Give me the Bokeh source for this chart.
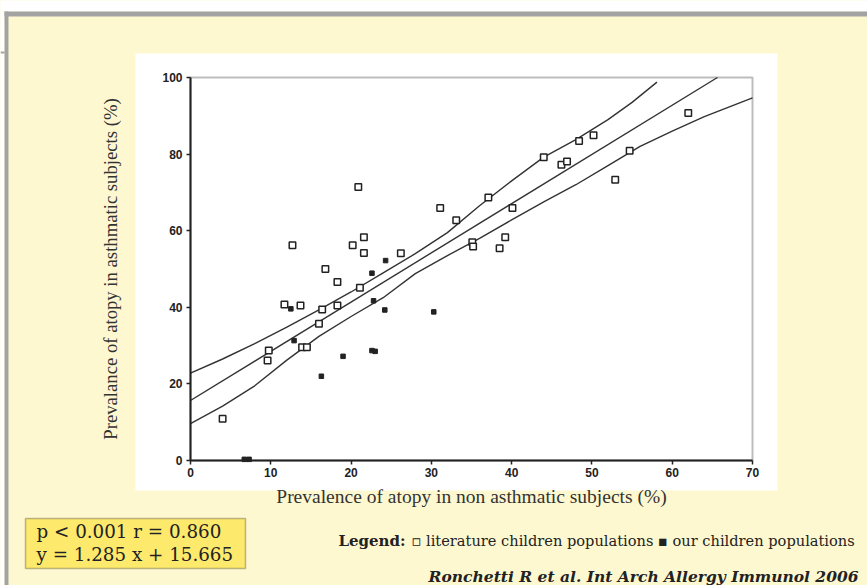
from bokeh.plotting import figure
from bokeh.models import Range1d, BoxAnnotation, Label
from bokeh.embed import file_html
from bokeh.resources import INLINE

# ---------------- data ----------------
lit_x = [4.0, 9.6, 9.75, 11.7, 12.7, 13.7, 13.9, 14.5, 16.0, 16.4, 16.8, 18.3, 18.3,
         20.2, 20.9, 21.1, 21.6, 21.6, 26.2, 31.1, 33.1, 35.1, 35.2, 37.1, 38.5,
         39.2, 40.1, 44.0, 46.2, 46.9, 48.4, 50.2, 52.9, 54.7, 62.0]
lit_y = [10.9, 26.1, 28.7, 40.7, 56.2, 40.5, 29.6, 29.6, 35.7, 39.4, 50.0, 46.6, 40.5,
         56.2, 71.4, 45.1, 54.2, 58.3, 54.1, 65.9, 62.7, 57.0, 55.9, 68.7, 55.4,
         58.3, 65.9, 79.2, 77.2, 78.1, 83.4, 84.9, 73.3, 80.9, 90.7]

our_x = [6.7, 7.3, 12.5, 12.9, 16.3, 19.0, 22.6, 23.0, 22.6, 22.8, 24.3, 24.2, 30.3]
our_y = [0.3, 0.3, 39.6, 31.3, 22.0, 27.2, 28.7, 28.5, 48.9, 41.7, 52.2, 39.3, 38.8]

slope = 1.285
intercept = 15.665

upper_x = [0, 4, 8, 12, 16, 20, 24, 28, 32, 36, 40, 44, 48, 52, 55, 58.1]
upper_y = [22.8, 26.5, 30.5, 34.8, 39.3, 44.0, 49.0, 54.0, 59.5, 66.5, 73.0, 79.2,
           83.8, 89.0, 93.5, 98.8]

lower_x = [0, 4, 8, 12, 16, 20, 24, 28, 32, 36, 40, 44, 48, 52, 56, 60, 64, 70]
lower_y = [9.6, 14.2, 19.5, 26.2, 32.4, 37.6, 42.5, 48.8, 53.5, 58.0, 62.8, 67.5,
           72.0, 77.0, 82.0, 86.0, 89.8, 94.7]

x_min, x_max = 0, 70
y_min, y_max = 0, 100
x_ticks = [0, 10, 20, 30, 40, 50, 60, 70]
y_ticks = [0, 20, 40, 60, 80, 100]

x_title = "Prevalence of atopy in non asthmatic subjects (%)"
y_title = "Prevalance of atopy in asthmatic subjects (%)"
stats_lines = ["p < 0.001 r = 0.860", "y = 1.285 x + 15.665"]
legend_head = "Legend:"
legend_rest = "\u25ab literature children populations \u25aa our children populations"
citation = "Ronchetti R et al. Int Arch Allergy Immunol 2006"

# ---------------- page geometry (pixels) ----------------
W, H = 867, 585
AX_L, AX_R, AX_T, AX_B = 190, 752, 77, 460      # where the axis box sits on the page
YELLOW = "#fef8d1"
BOXYEL = "#fde96c"
GRAY = "#a3a3a3"
INK = "#222222"
SERIF = "Liberation Serif"
WIDE_SERIF = "DejaVu Serif"

# the frame fills the whole page; ranges are set so that the axis box lands
# at AX_* on the page
kx = (AX_R - AX_L) / (x_max - x_min)
ky = (AX_B - AX_T) / (y_max - y_min)
xr = Range1d(x_min - AX_L / kx, x_max + (W - AX_R) / kx)
yr = Range1d(y_min - (H - AX_B) / ky, y_max + AX_T / ky)

p = figure(width=W, height=H, x_range=xr, y_range=yr,
           output_backend="svg", toolbar_location=None,
           min_border=0, min_border_left=0, min_border_right=0,
           min_border_top=0, min_border_bottom=0,
           border_fill_color=YELLOW, background_fill_color=YELLOW)
p.outline_line_color = None
p.grid.visible = False


def sx(cx):
    return cx


def sy(cy):
    return H - cy


def box(l, t, r, b, color, level="underlay", line_color=None, line_width=1):
    return BoxAnnotation(left=sx(l), right=sx(r), top=sy(t), bottom=sy(b),
                         left_units="screen", right_units="screen",
                         top_units="screen", bottom_units="screen",
                         fill_color=color, fill_alpha=1.0,
                         line_color=line_color, line_width=line_width,
                         level=level)


# page decoration
p.add_layout(box(0, 0, W, 11, "white"))
p.add_layout(box(0, 0, 4, H, "white"))
p.add_layout(box(4, 11, W, 16, GRAY))
p.add_layout(box(4, 11, 8, H, GRAY))
p.add_layout(box(0, 51, 4, 53, GRAY))
p.add_layout(box(135, 53, 777, 490, "white"))

# axis box (top and right sides)
p.add_layout(BoxAnnotation(left=x_min, right=x_max, bottom=y_min, top=y_max,
                           fill_alpha=0, line_color=INK, line_width=2,
                           level="guide"))

# axes, fixed at the data origin and bounded to the data box
p.xaxis.fixed_location = y_min
p.yaxis.fixed_location = x_min
p.xaxis.bounds = (x_min, x_max)
p.yaxis.bounds = (y_min, y_max)
for ax in (p.xaxis[0], p.yaxis[0]):
    ax.axis_line_color = INK
    ax.axis_line_width = 2
    ax.major_tick_line_color = INK
    ax.major_tick_line_width = 1.5
    ax.major_tick_out = 4
    ax.major_tick_in = 0
    ax.minor_tick_line_color = None
    ax.major_label_text_font = "Liberation Sans"
    ax.major_label_text_font_style = "bold"
    ax.major_label_text_font_size = "12px"
    ax.major_label_text_color = INK
    ax.axis_label_text_font = SERIF
    ax.axis_label_text_font_style = "normal"
    ax.axis_label_text_color = "#333333"

p.xaxis.ticker = x_ticks
p.yaxis.ticker = y_ticks
p.xaxis.major_label_standoff = 3
p.yaxis.major_label_standoff = 4
p.xaxis.axis_label = x_title
p.yaxis.axis_label = y_title
p.xaxis.axis_label_text_font_size = "19.5px"
p.yaxis.axis_label_text_font_size = "18.7px"
p.xaxis.axis_label_standoff = 6
p.yaxis.axis_label_standoff = 38

# regression line (stops at the top of the axis box) and confidence bands
reg_x = [x_min, (y_max - intercept) / slope]
reg_y = [slope * v + intercept for v in reg_x]
p.line(reg_x, reg_y, line_color="#333333", line_width=1.4)
p.line(upper_x, upper_y, line_color="#333333", line_width=1.4)
p.line(lower_x, lower_y, line_color="#333333", line_width=1.4)

# points
p.scatter(lit_x, lit_y, marker="square", size=6.5, fill_color="white",
          line_color=INK, line_width=1.5)
p.scatter(our_x, our_y, marker="square", size=4.5, fill_color=INK,
          line_color=INK, line_width=1)

# stats box
p.add_layout(box(25, 518, 245, 568, BOXYEL, level="annotation",
                 line_color=INK, line_width=1.5))
for i, txt in enumerate(stats_lines):
    p.add_layout(Label(x=sx(36), y=sy(531 + 23 * i), x_units="screen", y_units="screen",
                       text=txt, text_font=WIDE_SERIF, text_font_size="18.3px",
                       text_color=INK, text_baseline="middle", text_align="left"))

# legend text
p.add_layout(Label(x=sx(338), y=sy(540), x_units="screen", y_units="screen",
                   text=legend_head, text_font=WIDE_SERIF, text_font_style="bold",
                   text_font_size="15px", text_color=INK, text_baseline="middle"))
p.add_layout(Label(x=sx(411), y=sy(540), x_units="screen", y_units="screen",
                   text=legend_rest, text_font=WIDE_SERIF,
                   text_font_size="14.6px", text_color=INK, text_baseline="middle"))

# citation
p.add_layout(Label(x=sx(858), y=sy(576), x_units="screen", y_units="screen",
                   text=citation, text_font=WIDE_SERIF, text_font_style="bold italic",
                   text_font_size="15.5px", text_color=INK, text_baseline="middle",
                   text_align="right"))

open("out.html", "w").write(file_html(p, INLINE))
